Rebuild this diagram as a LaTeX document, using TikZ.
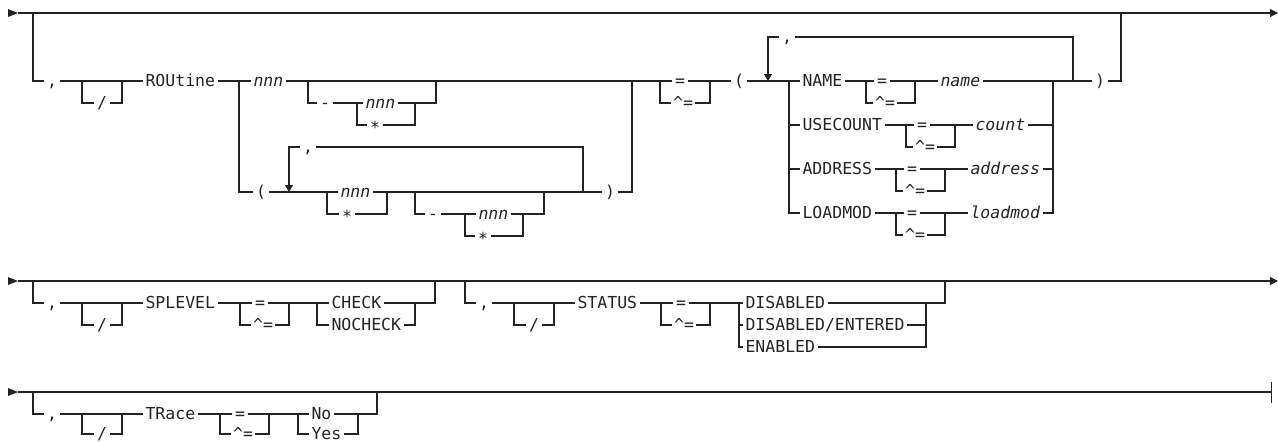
\documentclass[tikz,border=0pt]{standalone}
\usepackage{fontspec}
\setmonofont{DejaVu Sans Mono}
\usepackage{tikz}
\usetikzlibrary{arrows.meta}
\usetikzlibrary{calc}

\definecolor{ink}{RGB}{35,35,35}

\begin{document}
\begin{tikzpicture}[x=1pt, y=-1pt, line width=1.1pt, color=ink,
        every node/.style={font=\fontsize{16.5}{19}\selectfont\ttfamily, inner xsep=2pt, inner ysep=0pt, text height=11.5pt, text depth=0pt},
        keyw/.style={anchor=west},
        varw/.style={anchor=west, font=\fontsize{16.5}{19}\selectfont\ttfamily\itshape},
        asterisk/.style={text height=17pt},
        endtip/.style={-{Triangle[length=8pt,width=8pt]}},
        looptip/.style={-{Triangle[length=7pt,width=8pt]}}]
        \useasboundingbox (0,0) rectangle (1278,442);

        % Define the main lines of the three rows
        \coordinate (A0) at (18,13);
        \coordinate (A1) at (33,13);
        \coordinate (A9) at (1121,13);
        \coordinate (Aend) at (1278,13);
        \coordinate (B0) at (18,281);
        \coordinate (B9) at (435,281);
        \coordinate (B19) at (945,281);
        \coordinate (Bend) at (1278,281);
        \coordinate (C0) at (18,392);
        \coordinate (C9) at (377,392);
        \coordinate (Cend) at (1272,392);

        \fill (8,9) -- (A0) -- (8,17) -- cycle;
        \fill (8,277) -- (B0) -- (8,285) -- cycle;
        \fill (8,388) -- (C0) -- (8,396) -- cycle;
        \draw[endtip] (A0) -- (Aend);
        \draw[endtip] (B0) -- (Bend);
        \draw[-{Bar[width=21pt]}] (C0) -- (Cend);

        % Draw the ROUtine prefix
        \node (comA) at (52,81) {,};
        \node[keyw] (ROU) at (143,81) {ROUtine};
        \node (slA) at (102,103) {/};
        \coordinate (slA1) at (82,81);
        \coordinate (slA9) at (122,81);
        \draw (A1) |- (comA.west);
        \draw (comA.east) -- (ROU.west);
        \draw (slA1) |- (slA.west);
        \draw (slA.east) -| (slA9);

        % First choice: nnn with an optional range
        \coordinate (R1) at (239,81);
        \coordinate (R9) at (632,81);
        \node[varw] (nnnA) at (251,81) {nnn};
        \draw (ROU.east) -- (R1) -- (nnnA.west);
        \draw (nnnA.east) -- (R9);
        \coordinate (O1) at (308,81);
        \coordinate (O9) at (436,81);
        \coordinate (D1) at (357,103);
        \coordinate (D9) at (415,103);
        \node (dashA) at (325,103) {-};
        \node[varw] (nnnB) at (363,103) {nnn};
        \node[asterisk] (starB) at (375,125) {*};
        \draw (O1) |- (dashA.west);
        \draw (dashA.east) -- (D1) -- (nnnB.west);
        \draw (nnnB.east) -- (D9) -| (O9);
        \draw (D1) |- (starB.west);
        \draw (starB.east) -| (D9);

        % Second choice: a repeated list in parentheses
        \coordinate (L1) at (289,192);
        \coordinate (E1) at (327,192);
        \coordinate (E9) at (387,192);
        \coordinate (P1) at (415,192);
        \coordinate (P9) at (544,192);
        \coordinate (L9) at (583,192);
        \node (lpA) at (261,192) {(};
        \node[varw] (nnnC) at (338,192) {nnn};
        \node[asterisk] (starC) at (347,214) {*};
        \node (rpA) at (610,192) {)};
        \draw (R1) |- (lpA.west);
        \draw (lpA.east) -- (L1) -- (E1) -- (nnnC.west);
        \draw (nnnC.east) -- (E9) -- (P1) -- (P9) -- (L9) -- (rpA.west);
        \draw (E1) |- (starC.west);
        \draw (starC.east) -| (E9);
        \draw (rpA.east) -| (R9);
        \coordinate (Q1) at (465,214);
        \coordinate (Q9) at (523,214);
        \node (dashB) at (433,214) {-};
        \node[varw] (nnnD) at (476,214) {nnn};
        \node[asterisk] (starD) at (483,236) {*};
        \draw (P1) |- (dashB.west);
        \draw (dashB.east) -- (Q1) -- (nnnD.west);
        \draw (nnnD.east) -- (Q9) -| (P9);
        \draw (Q1) |- (starD.west);
        \draw (starD.east) -| (Q9);
        \node (comB) at (308,147) {,};
        \draw (L9) |- (comB.east);
        \draw[looptip] (comB.west) -| (L1);

        % Equal sign choice and the keyword list
        \coordinate (F1) at (660,81);
        \coordinate (F9) at (710,81);
        \node (eqA) at (680,81) {=};
        \node (neA) at (683,103) {\textasciicircum=};
        \draw (R9) -- (F1) -- (eqA.west);
        \draw (eqA.east) -- (F9);
        \draw (F1) |- (neA.west);
        \draw (neA.east) -| (F9);
        \coordinate (M1) at (768,81);
        \coordinate (K1) at (789,81);
        \coordinate (J9) at (1053,81);
        \coordinate (K9) at (1073,81);
        \node (lpB) at (739,81) {(};
        \node (rpB) at (1100,81) {)};
        \node (comC) at (787,37) {,};
        \draw (F9) -- (lpB.west);
        \draw (lpB.east) -- (M1) -- (K1);
        \draw (J9) -- (K9) -- (rpB.west);
        \draw (rpB.east) -| (A9);
        \draw (K9) |- (comC.east);
        \draw[looptip] (comC.west) -| (M1);

        \foreach \kw/\val/\yy/\ea/\xv [count=\i] in {NAME/name/81/866/938, USECOUNT/count/125/906/973, ADDRESS/address/169/896/968, LOADMOD/loadmod/213/896/968}
        {
          \node[keyw] (kw\i) at (800,\yy) {\kw};
          \node[varw] (val\i) at (\xv,\yy) {\val};
          \coordinate (ea\i) at (\ea,\yy);
          \coordinate (eb\i) at (\ea+49,\yy);
          \node (eq\i) at (\ea+16,\yy) {=};
          \node (ne\i) at (\ea+19,\yy+22) {\textasciicircum=};
          \draw (K1) |- (kw\i.west);
          \draw (kw\i.east) -- (ea\i) -- (eq\i.west);
          \draw (eq\i.east) -- (eb\i) -- (val\i.west);
          \draw (ea\i) |- (ne\i.west);
          \draw (ne\i.east) -| (eb\i);
          \draw (val\i.east) -| (J9);
        }

        % Optional prefixes of the lower rows
        \foreach \nm/\xs/\yy/\kw/\ea/\dy in {spl/33/281/SPLEVEL/240/44, sta/465/281/STATUS/661/44, tra/33/392/TRace/220/42}
        {
          \coordinate (\nm0) at (\xs,\yy);
          \coordinate (\nm-s1) at (\xs+49,\yy+22);
          \coordinate (\nm-s9) at (\xs+89,\yy+22);
          \coordinate (\nm-e1) at (\ea,\yy+22);
          \coordinate (\nm-e9) at (\ea+49,\yy+22);
          \node (\nm-com) at (\xs+19,\yy+22) {,};
          \node[keyw] (\nm-kw) at (\xs+110,\yy+22) {\kw};
          \node (\nm-sl) at (\xs+69,\yy+\dy) {/};
          \node (\nm-eq) at (\ea+20,\yy+22) {=};
          \node (\nm-ne) at (\ea+23,\yy+\dy) {\textasciicircum=};
          \draw (\nm0) |- (\nm-com.west);
          \draw (\nm-com.east) -- (\nm-kw.west);
          \draw (\nm-s1) |- (\nm-sl.west);
          \draw (\nm-sl.east) -| (\nm-s9);
          \draw (\nm-kw.east) -- (\nm-e1) -- (\nm-eq.west);
          \draw (\nm-eq.east) -- (\nm-e9);
          \draw (\nm-e1) |- (\nm-ne.west);
          \draw (\nm-ne.east) -| (\nm-e9);
        }

        % SPLEVEL values
        \coordinate (T1) at (317,303);
        \coordinate (T9) at (415,303);
        \node[keyw] (chk) at (329,303) {CHECK};
        \node[keyw] (nchk) at (329,325) {NOCHECK};
        \draw (spl-e9) -- (T1) -- (chk.west);
        \draw (chk.east) -- (T9) -| (B9);
        \draw (T1) |- (nchk.west);
        \draw (nchk.east) -| (T9);

        % STATUS values
        \coordinate (H1) at (739,303);
        \coordinate (H9) at (926,303);
        \node[keyw] (dis) at (743,303) {DISABLED};
        \node[keyw] (dise) at (743,325) {DISABLED/ENTERED};
        \node[keyw] (ena) at (743,347) {ENABLED};
        \draw (sta-e9) -- (H1) -- (dis.west);
        \draw (dis.east) -- (H9) -| (B19);
        \draw (H1) |- (dise.west);
        \draw (dise.east) -| (H9);
        \draw (H1) |- (ena.west);
        \draw (ena.east) -| (H9);

        % TRace values
        \coordinate (Y1) at (298,414);
        \coordinate (Y9) at (358,414);
        \node[keyw] (no) at (309,414) {No};
        \node[keyw] (yes) at (309,434) {Yes};
        \draw (tra-e9) -- (Y1) -- (no.west);
        \draw (no.east) -- (Y9) -| (C9);
        \draw (Y1) |- (yes.west);
        \draw (yes.east) -| (Y9);
      \end{tikzpicture}
\end{document}
